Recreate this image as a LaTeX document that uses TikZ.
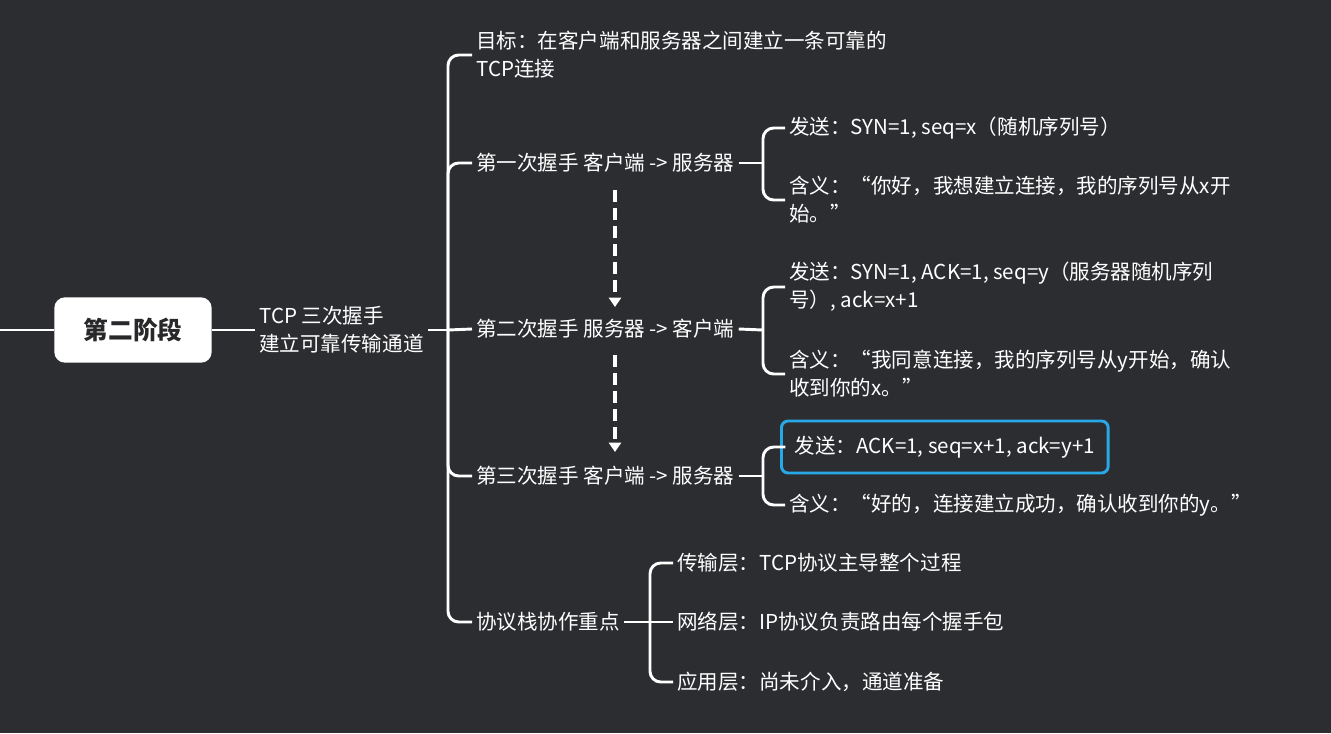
\documentclass[tikz,border=0pt]{standalone}
\usepackage{fontspec}
\setmainfont{Noto Sans CJK SC}
\usetikzlibrary{arrows.meta,positioning}
\definecolor{bgdark}{RGB}{44,45,49}
\definecolor{selblue}{RGB}{41,168,232}
\definecolor{rootink}{RGB}{40,40,42}

\begin{document}
\begin{tikzpicture}[x=0.75pt, y=-0.75pt, >=Latex,
    font=\fontsize{15.4}{21}\selectfont,
    link/.style={draw=white, line width=2.2pt, rounded corners=8pt},
    topic/.style={anchor=west, align=left, text=white, inner xsep=3pt, inner ysep=2pt},
    rootbox/.style={fill=white, rounded corners=8pt, minimum width=118pt, minimum height=49pt,
      text=rootink, font=\fontsize{18.5}{22}\selectfont\bfseries},
    selbox/.style={topic, draw=selblue, line width=2.2pt, rounded corners=5pt,
      inner xsep=10pt, minimum height=39pt}]
  \fill[bgdark] (0,0) rectangle (1331,733);
  \useasboundingbox (0,0) rectangle (1331,733);

  \coordinate (start) at (0,330);
  \node[rootbox] (stage) at (133,330) {第二阶段};
  \node[topic] (tcp) at (255,330) {TCP 三次握手\\建立可靠传输通道};
  \draw[link] (start) -- (stage.west);
  \draw[link] (stage.east) -- (tcp.west);

  % second level
  \coordinate (j1) at (448,330);
  \node[topic] (goal) at (472,55) {目标：在客户端和服务器之间建立一条可靠的\\TCP连接};
  \node[topic] (hs1) at (472,163) {第一次握手 客户端 -> 服务器};
  \node[topic] (hs2) at (472,329) {第二次握手 服务器 -> 客户端};
  \node[topic] (hs3) at (472,476) {第三次握手 客户端 -> 服务器};
  \node[topic] (stack) at (472,622) {协议栈协作重点};
  \draw[link] (tcp.east) -- (j1);
  \draw[link] (j1) |- (goal.west);
  \draw[link] (j1) |- (hs1.west);
  \draw[link] (j1) -- (hs2.west);
  \draw[link] (j1) |- (hs3.west);
  \draw[link] (j1) |- (stack.west);

  % first handshake
  \coordinate (j2) at (763,163);
  \node[topic] (syn1) at (785,128) {发送：SYN=1, seq=x（随机序列号）};
  \node[topic] (mean1) at (785,200) {含义：“你好，我想建立连接，我的序列号从x开\\始。”};
  \draw[link] (hs1.east) -- (j2);
  \draw[link] (j2) |- (syn1.west);
  \draw[link] (j2) |- (mean1.west);

  % second handshake
  \coordinate (j3) at (763,330);
  \node[topic] (syn2) at (785,287) {发送：SYN=1, ACK=1, seq=y（服务器随机序列\\号）, ack=x+1};
  \node[topic] (mean2) at (785,374) {含义：“我同意连接，我的序列号从y开始，确认\\收到你的x。”};
  \draw[link] (hs2.east) -- (j3);
  \draw[link] (j3) |- (syn2.west);
  \draw[link] (j3) |- (mean2.west);

  % third handshake
  \coordinate (j4) at (763,476);
  \node[selbox] (syn3) at (780,447) {发送：ACK=1, seq=x+1, ack=y+1};
  \node[topic] (mean3) at (785,505) {含义：“好的，连接建立成功，确认收到你的y。”};
  \draw[link] (hs3.east) -- (j4);
  \draw[link] (j4) |- ([xshift=4pt]syn3.west);
  \draw[link] (j4) |- (mean3.west);

  % protocol stack
  \coordinate (j5) at (650,622);
  \node[topic] (layer1) at (673,563) {传输层：TCP协议主导整个过程};
  \node[topic] (layer2) at (673,622) {网络层：IP协议负责路由每个握手包};
  \node[topic] (layer3) at (673,682) {应用层：尚未介入，通道准备};
  \draw[link] (stack.east) -- (j5);
  \draw[link] (j5) |- (layer1.west);
  \draw[link] (j5) -- (layer2.west);
  \draw[link] (j5) |- (layer3.west);

  % order of the handshakes
  \coordinate (a1) at (615,190);
  \coordinate (a2) at (615,307);
  \coordinate (b1) at (615,355);
  \coordinate (b2) at (615,452);
  \draw[-{Triangle[width=9pt,length=7pt]}, white, line width=2.4pt, dash pattern=on 9pt off 4.5pt] (a1) -- (a2);
  \draw[-{Triangle[width=9pt,length=7pt]}, white, line width=2.4pt, dash pattern=on 9pt off 4.5pt] (b1) -- (b2);
\end{tikzpicture}
\end{document}
